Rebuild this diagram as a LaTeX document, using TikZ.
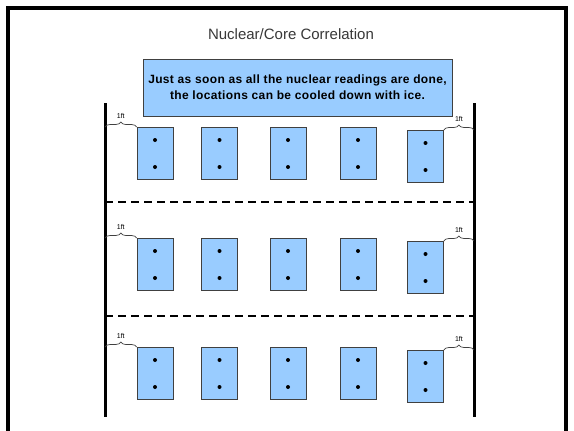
\documentclass[tikz,border=0pt]{standalone}
\usepackage{fontspec}
\setmainfont{Liberation Sans}
\newfontfamily\notefont{Liberation Sans}[LetterSpace=3]
\usetikzlibrary{calc,decorations.pathreplacing}
\definecolor{cellblue}{HTML}{99CCFF}
\definecolor{edgegray}{HTML}{404040}
\tikzset{cell/.style={draw=edgegray, fill=cellblue, line width=0.8pt, minimum width=36pt, minimum height=52pt, inner sep=0pt, anchor=north},
  wall/.style={line width=3pt},
  divider/.style={line width=1.6pt, dash pattern=on 8pt off 5pt},
  gap/.style={decorate, decoration={brace, amplitude=5pt}, line width=0.7pt, draw=edgegray},
  dot/.style={circle, fill=black, inner sep=0pt, minimum size=4pt}}

\begin{document}
\begin{tikzpicture}[x=1pt, y=-1pt]
  \clip (0,0) rectangle (574,431);
  \fill[white] (0,0) rectangle (574,431);
  % frame, open at the bottom
  \draw[line width=4pt] (8,440) -- (8,8) -- (566,8) -- (566,440);
  \node[anchor=base, font=\fontsize{15}{18}\selectfont, text=black!78] (title) at (291,39) {Nuclear/Core Correlation};
  \node[draw=edgegray, fill=cellblue, line width=0.9pt, minimum width=309pt, minimum height=57pt, align=center,
    font=\notefont\bfseries\fontsize{12}{16}\selectfont] (note) at (297.5,87.5)
    {Just as soon as all the nuclear readings are done,\\the locations can be cooled down with ice.};
  % side walls
  \coordinate (wallLt) at (105,103);
  \coordinate (wallLb) at (105,417);
  \coordinate (wallRt) at (474,103);
  \coordinate (wallRb) at (474,417);
  \draw[wall] (wallLt) -- (wallLb);
  \draw[wall] (wallRt) -- (wallRb);
  % dashed lines between the rows
  \foreach \y [count=\i] in {202,316} {
    \coordinate (div\i) at (105,\y);
    \draw[divider] (div\i) -- (div\i -| wallRt);
  }
  % three rows of five locations, two readings each
  \foreach \rowy [count=\r] in {127,238,347} {
    \foreach \x/\dy [count=\c] in {155/0,219.5/0,288/0,358/0,425.5/3} {
      \node[cell] (b\r\c) at (\x,\rowy+\dy) {};
      \node[dot] at ($(b\r\c.north)+(0,13)$) {};
      \node[dot] at ($(b\r\c.north)+(0,40)$) {};
    }
    % 1ft spacing to the walls
    \draw[gap] (b\r1.north west -| wallLt) -- (b\r1.north west)
      node[midway, above=5pt, font=\fontsize{7}{8}\selectfont] {1ft};
    \draw[gap] (b\r5.north east) -- (b\r5.north east -| wallRt)
      node[midway, above=5pt, font=\fontsize{7}{8}\selectfont] {1ft};
  }
\end{tikzpicture}
\end{document}
